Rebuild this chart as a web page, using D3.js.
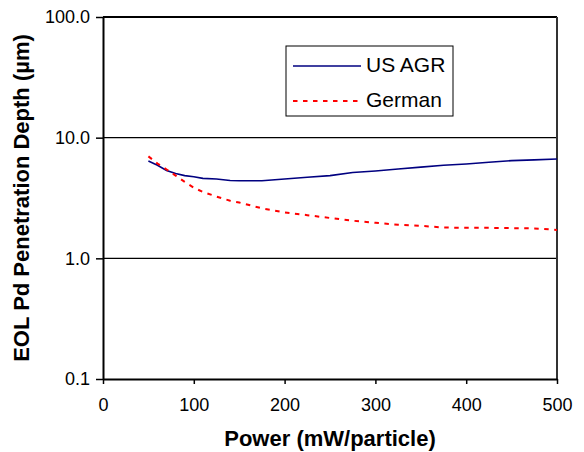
<!DOCTYPE html>
<html>
<head>
<meta charset="utf-8">
<script src="https://cdn.jsdelivr.net/npm/d3@7"></script>
<style>
  body { margin: 0; background: #fff; }
  svg text { font-family: "Liberation Sans", Arial, sans-serif; }
</style>
</head>
<body>
<div id="chart"></div>
<script>
// Power values (mW/particle)
const POWER = [50, 60, 70, 80, 90, 100, 110, 125, 140, 150, 175, 200, 225, 250, 275, 300, 325, 350, 375, 400, 425, 450, 475, 500];
// EOL Pd penetration depth (um)
const US_AGR = [6.4, 5.9, 5.35, 5.05, 4.85, 4.75, 4.6, 4.55, 4.42, 4.4, 4.4, 4.55, 4.7, 4.85, 5.15, 5.3, 5.5, 5.7, 5.9, 6.05, 6.25, 6.45, 6.55, 6.65];
const GERMAN = [7.0, 6.1, 5.45, 4.85, 4.3, 3.85, 3.55, 3.25, 3.0, 2.9, 2.6, 2.4, 2.28, 2.16, 2.05, 1.97, 1.9, 1.86, 1.8, 1.79, 1.79, 1.78, 1.77, 1.72];
const X_TICKS = [0, 100, 200, 300, 400, 500];
const Y_TICKS = [0.1, 1, 10, 100];
const SERIES_NAMES = ["US AGR", "German"];

var width = 584;
var height = 452;
var margin = { top: 17, right: 27, bottom: 73, left: 103 };

var svg = d3.select('#chart').append('svg')
	.attr('width', width)
	.attr('height', height);

var scaleX = d3.scaleLinear()
	.domain([0, 500])
	.range([margin.left, width - margin.right]);
var scaleY = d3.scaleLog()
	.domain([0.1, 100])
	.range([height - margin.bottom, margin.top]);

// horizontal gridlines
svg.append('g')
	.selectAll('line')
	.data(Y_TICKS.slice(1))
	.join('line')
	.attr('x1', scaleX(0))
	.attr('x2', scaleX(500))
	.attr('y1', d => scaleY(d))
	.attr('y2', d => scaleY(d))
	.attr('stroke', '#000')
	.attr('stroke-width', d => d === 100 ? 2 : 1.2);

// right border
svg.append('line')
	.attr('x1', scaleX(500)).attr('x2', scaleX(500))
	.attr('y1', scaleY(100)).attr('y2', scaleY(0.1))
	.attr('stroke', '#333')
	.attr('stroke-width', 2);

// axes
var xAxis = d3.axisBottom(scaleX)
	.tickValues(X_TICKS)
	.tickFormat(d3.format('d'))
	.tickSizeInner(5)
	.tickSizeOuter(0)
	.tickPadding(14);
var yAxis = d3.axisLeft(scaleY)
	.tickValues(Y_TICKS)
	.tickFormat(d3.format('.1f'))
	.tickSizeInner(7)
	.tickSizeOuter(0)
	.tickPadding(6);

var gx = svg.append('g')
	.attr('transform', 'translate(0,' + scaleY(0.1) + ')')
	.call(xAxis);
var gy = svg.append('g')
	.attr('transform', 'translate(' + scaleX(0) + ',0)')
	.call(yAxis);

[gx, gy].forEach(function(g) {
	g.select('.domain').attr('stroke', '#000').attr('stroke-width', 2);
	g.selectAll('.tick line').attr('stroke', '#000').attr('stroke-width', 1.5);
	g.selectAll('.tick text')
		.attr('fill', '#000')
		.attr('font-size', '18px')
		.style('font-family', '"Liberation Sans", Arial, sans-serif');
});

// lines
var line = d3.line()
	.x(d => scaleX(d[0]))
	.y(d => scaleY(d[1]));

svg.append('path')
	.datum(POWER.map((p, i) => [p, US_AGR[i]]))
	.attr('d', line)
	.attr('fill', 'none')
	.attr('stroke', '#000080')
	.attr('stroke-width', 1.6);

svg.append('path')
	.datum(POWER.map((p, i) => [p, GERMAN[i]]))
	.attr('d', line)
	.attr('fill', 'none')
	.attr('stroke', '#ff0000')
	.attr('stroke-width', 2)
	.attr('stroke-dasharray', '4.5,5.5');

// legend
var legend = svg.append('g').attr('transform', 'translate(286,46)');
legend.append('rect')
	.attr('width', 167)
	.attr('height', 70)
	.attr('fill', '#fff')
	.attr('stroke', '#000')
	.attr('stroke-width', 1);

SERIES_NAMES.forEach(function(name, i) {
	var y = 20 + i * 35;
	legend.append('line')
		.attr('x1', 7).attr('x2', 75)
		.attr('y1', y).attr('y2', y)
		.attr('stroke', i === 0 ? '#000080' : '#ff0000')
		.attr('stroke-width', i === 0 ? 1.6 : 2)
		.attr('stroke-dasharray', i === 0 ? null : '4.5,5.5');
	legend.append('text')
		.attr('x', 80)
		.attr('y', y + 6)
		.attr('font-size', '21px')
		.text(name);
});

// axis titles
svg.append('text')
	.attr('x', (scaleX(0) + scaleX(500)) / 2)
	.attr('y', 446)
	.attr('text-anchor', 'middle')
	.attr('font-size', '22px')
	.attr('font-weight', 'bold')
	.text('Power (mW/particle)');

svg.append('text')
	.attr('transform', 'translate(29,' + ((scaleY(0.1) + scaleY(100)) / 2) + ') rotate(-90)')
	.attr('text-anchor', 'middle')
	.attr('font-size', '22px')
	.attr('font-weight', 'bold')
	.text('EOL Pd Penetration Depth (\u00b5m)');
</script>
</body>
</html>
